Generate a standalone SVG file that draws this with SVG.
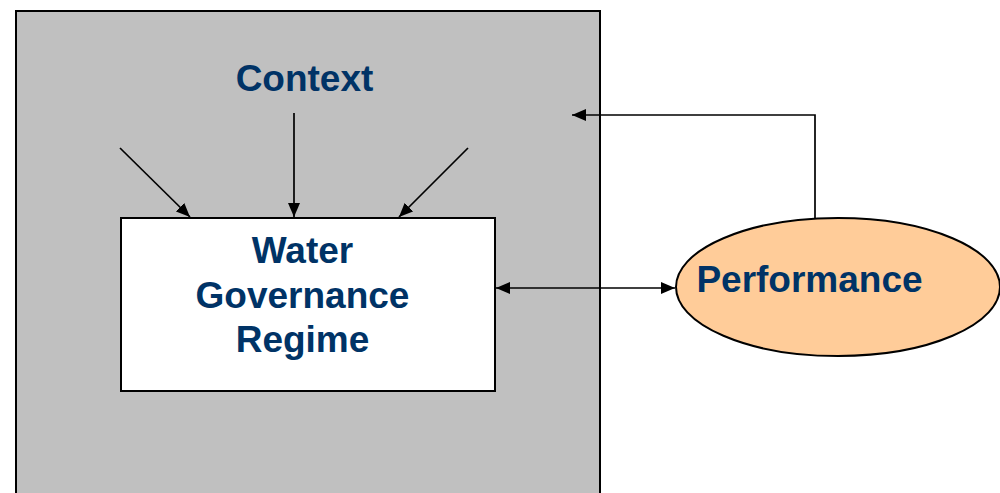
<svg xmlns="http://www.w3.org/2000/svg" width="1000" height="493" viewBox="0 0 1000 493">
<style>
.lbl{font-family:"Liberation Sans",Arial,sans-serif;font-weight:bold;font-size:37px;fill:#003366;text-anchor:middle}
.con{stroke:#000;stroke-width:1.7;fill:none}
</style>
<defs>
<marker id="ah" viewBox="0 0 14 12" refX="14" refY="6" markerWidth="14" markerHeight="12" markerUnits="userSpaceOnUse" orient="auto-start-reverse">
<path d="M0,0 L14,6 L0,12 z" fill="#000"/>
</marker>
</defs>
<rect width="1000" height="493" fill="#fff"/>
<g id="context">
<rect x="16" y="11" width="584" height="500" fill="#c0c0c0" stroke="#000" stroke-width="2"/>
<text class="lbl" x="304.5" y="91">Context</text>
</g>
<g id="regime">
<rect x="121" y="218" width="374" height="173" fill="#fff" stroke="#000" stroke-width="2"/>
<text class="lbl" x="302.5" y="263">Water</text>
<text class="lbl" x="302.5" y="308">Governance</text>
<text class="lbl" x="302.5" y="352">Regime</text>
</g>
<g id="performance">
<ellipse cx="838" cy="287" rx="162" ry="69" fill="#ffcc99" stroke="#000" stroke-width="2"/>
<text class="lbl" x="809.5" y="292">Performance</text>
</g>
<g id="connectors">
<line class="con" x1="120" y1="148" x2="190" y2="217" marker-end="url(#ah)"/>
<line class="con" x1="294" y1="113" x2="294" y2="217" marker-end="url(#ah)"/>
<line class="con" x1="468" y1="148" x2="399" y2="217" marker-end="url(#ah)"/>
<polyline class="con" points="815,218 815,115 572,115" marker-end="url(#ah)"/>
<line class="con" x1="496" y1="288" x2="675" y2="288" marker-start="url(#ah)" marker-end="url(#ah)"/>
</g>
</svg>
